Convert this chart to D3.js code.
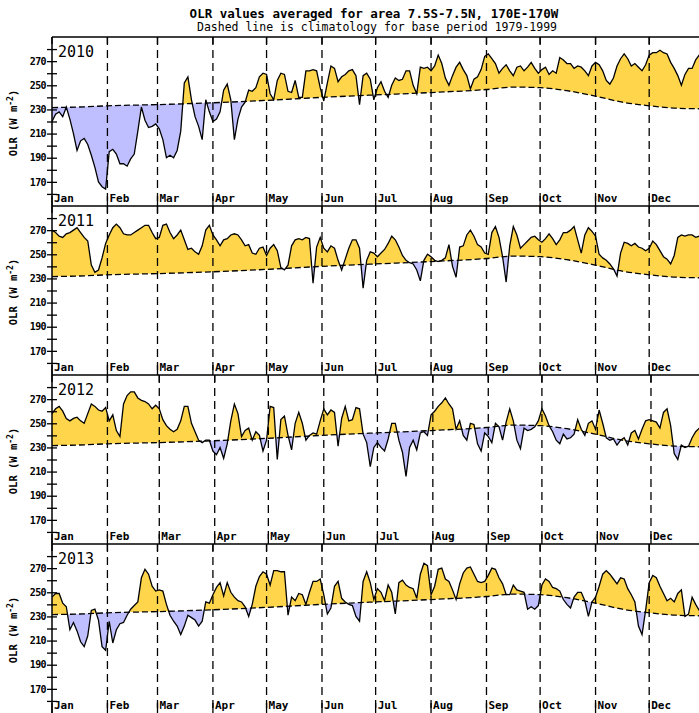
<!DOCTYPE html>
<html>
<head>
<meta charset="utf-8">
<script src="https://cdn.jsdelivr.net/npm/d3@7"></script>
<style>
    body { margin: 0; background: #fff; }
</style>
</head>
<body>
<div id="chart"></div>
<script>
var years = [2010, 2011, 2012, 2013];
var monthNames = ["Jan", "Feb", "Mar", "Apr", "May", "Jun", "Jul", "Aug", "Sep", "Oct", "Nov", "Dec"];
var yTickLabels = [170, 190, 210, 230, 250, 270];

// climatology 1979-1999, day of year -> W m-2
var climDays = [0, 15, 31, 59, 90, 120, 151, 181, 212, 243, 258, 273, 288, 304, 319, 334, 349, 365];
var climValues = [231.5, 232, 233, 234, 235.5, 237.5, 240, 242, 244, 246.5, 248.5, 248, 245.5, 241, 236, 233, 231, 230.5];

// daily OLR read every 2nd day from Jan 1
var sampleStep = 2;
var olr2010 = [220, 226, 228, 224, 232, 222, 210, 196, 204, 206,
    201, 192, 182, 170, 166, 164, 195, 197, 193, 185,
    185, 183, 189, 193, 212, 232, 221, 215, 216, 218,
    214, 205, 190, 192, 190, 196, 212, 252, 257, 238,
    224, 216, 205, 238, 228, 220, 222, 228, 246, 251,
    238, 205, 222, 232, 236, 246, 245, 248, 257, 260,
    259, 243, 238, 254, 260, 259, 245, 244, 254, 240,
    240, 262, 262, 263, 262, 248, 237, 252, 266, 264,
    253, 257, 259, 262, 263, 258, 234, 258, 260, 255,
    238, 248, 253, 245, 240, 250, 256, 254, 255, 262,
    262, 250, 243, 265, 264, 265, 262, 266, 275, 268,
    256, 250, 258, 265, 269, 263, 258, 247, 255, 257,
    263, 274, 276, 272, 268, 260, 264, 267, 262, 258,
    265, 266, 262, 265, 269, 264, 260, 263, 265, 259,
    262, 260, 273, 271, 268, 268, 264, 266, 265, 262,
    258, 266, 269, 267, 262, 254, 251, 256, 266, 272,
    276, 272, 266, 268, 265, 262, 267, 275, 277, 277,
    279, 277, 276, 269, 264, 258, 250, 259, 264, 264,
    271, 275, 274];
var olr2011 = [270, 268, 265, 264, 267, 268, 270, 272, 268, 264,
    261, 241, 235, 237, 247, 259, 266, 272, 275, 272,
    267, 266, 266, 268, 270, 272, 274, 274, 268, 263,
    264, 274, 275, 268, 263, 266, 270, 262, 254, 255,
    252, 250, 257, 270, 274, 266, 262, 257, 262, 263,
    266, 267, 266, 262, 257, 258, 251, 250, 255, 256,
    249, 255, 258, 253, 239, 237, 241, 257, 262, 263,
    262, 264, 263, 226, 256, 264, 255, 252, 257, 255,
    245, 237, 246, 255, 262, 262, 255, 222, 245, 252,
    251, 248, 251, 254, 259, 265, 262, 256, 249, 245,
    243, 242, 237, 228, 245, 250, 248, 245, 244, 245,
    247, 258, 240, 231, 256, 257, 266, 270, 265, 258,
    256, 251, 250, 268, 273, 264, 248, 227, 257, 273,
    266, 255, 258, 261, 264, 265, 262, 260, 263, 267,
    263, 258, 262, 268, 268, 270, 273, 262, 251, 266,
    272, 269, 265, 250, 247, 245, 242, 238, 232, 251,
    260, 259, 257, 259, 256, 255, 253, 255, 261, 258,
    253, 248, 246, 242, 249, 264, 266, 265, 266, 266,
    264, 265, 265];
var olr2012 = [258, 262, 264, 260, 254, 252, 254, 255, 252, 250,
    258, 266, 264, 261, 260, 263, 252, 257, 244, 239,
    266, 273, 276, 276, 271, 269, 268, 266, 262, 265,
    262, 253, 248, 245, 243, 245, 252, 264, 264, 250,
    243, 236, 234, 236, 236, 227, 224, 230, 221, 233,
    252, 266, 258, 239, 244, 246, 236, 243, 240, 227,
    236, 264, 263, 220, 253, 256, 240, 228, 250, 259,
    250, 236, 240, 242, 241, 252, 262, 257, 261, 259,
    231, 254, 264, 252, 253, 263, 262, 241, 234, 214,
    230, 234, 230, 227, 237, 250, 250, 236, 226, 206,
    230, 236, 228, 242, 243, 240, 257, 260, 264, 267,
    271, 266, 262, 245, 252, 240, 236, 250, 249, 233,
    227, 242, 239, 234, 250, 247, 236, 251, 262, 252,
    236, 229, 246, 244, 245, 247, 252, 262, 256, 248,
    243, 236, 233, 241, 237, 238, 241, 253, 245, 240,
    250, 252, 245, 261, 250, 238, 236, 237, 232, 236,
    238, 232, 242, 244, 237, 245, 252, 253, 252, 251,
    246, 259, 262, 248, 225, 220, 232, 230, 231, 238,
    243, 246, 249];
var olr2013 = [246, 249, 249, 241, 238, 219, 225, 218, 209, 205,
    214, 235, 236, 227, 205, 202, 226, 208, 219, 224,
    225, 231, 236, 239, 242, 262, 269, 265, 255, 251,
    252, 251, 240, 231, 226, 222, 215, 222, 231, 229,
    227, 222, 226, 242, 241, 248, 254, 258, 247, 258,
    250, 246, 243, 242, 238, 230, 240, 255, 263, 267,
    265, 256, 268, 268, 267, 267, 231, 246, 243, 249,
    248, 240, 250, 259, 259, 261, 248, 232, 237, 255,
    259, 245, 242, 240, 239, 230, 226, 259, 267, 258,
    244, 253, 250, 243, 256, 250, 232, 258, 260, 256,
    254, 253, 245, 265, 274, 272, 248, 255, 269, 270,
    261, 259, 252, 244, 257, 266, 270, 271, 265, 259,
    258, 259, 264, 270, 269, 262, 257, 248, 248, 256,
    252, 251, 250, 236, 238, 236, 239, 256, 261, 259,
    254, 253, 251, 244, 240, 237, 246, 250, 250, 243,
    230, 242, 246, 255, 265, 268, 265, 261, 257, 262,
    261, 253, 248, 242, 222, 215, 235, 258, 264, 262,
    255, 249, 243, 245, 242, 249, 252, 230, 232, 246,
    240, 235, 238];
var olrByYear = [olr2010, olr2011, olr2012, olr2013];

(function () {
    var width = 699,
        height = 713,
        left = 52,
        pxPerDay = 1.788,
        panelTop = 37,
        panelH = 169,
        yellow = "#ffd54c",
        lavender = "#bfbfff",
        mono = "'DejaVu Sans Mono', monospace";

    var svg = d3.select("#chart").append("svg")
        .attr("width", width)
        .attr("height", height)
        .style("font-family", mono);

    var defs = svg.append("defs");

    var x = d3.scaleLinear().domain([0, 365]).range([left, left + 365 * pxPerDay]);

    svg.append("text")
        .attr("x", 374).attr("y", 18)
        .attr("text-anchor", "middle")
        .style("font-size", "12.5px").style("font-weight", "bold")
        .text("OLR values averaged for area 7.5S-7.5N, 170E-170W");
    svg.append("text")
        .attr("x", 377).attr("y", 31)
        .attr("text-anchor", "middle")
        .style("font-size", "11.5px")
        .text("Dashed line is climatology for base period 1979-1999");

    var clim = climDays.map(function (d, k) { return [d, climValues[k]]; });

    years.forEach(function (yr, i) {
        var top = panelTop + i * panelH,
            bottom = top + panelH,
            y = d3.scaleLinear().domain([150, 290]).range([bottom, top]),
            jan1 = new Date(yr, 0, 1),
            monthDays = d3.timeMonths(jan1, new Date(yr + 1, 0, 1)).map(function (m) {
                return d3.timeDay.count(jan1, m);
            }),
            olr = olrByYear[i].map(function (v, k) { return [k * sampleStep, v]; });

        var g = svg.append("g").attr("class", "panel-" + yr);

        // clip regions above / below climatology
        var climArea = d3.area()
            .curve(d3.curveMonotoneX)
            .x(function (d) { return x(d[0]); })
            .y1(function (d) { return y(d[1]); });
        defs.append("clipPath").attr("id", "above" + yr)
            .append("path").attr("d", climArea.y0(top)(clim));
        defs.append("clipPath").attr("id", "below" + yr)
            .append("path").attr("d", climArea.y0(bottom)(clim));

        var olrX = function (d) { return x(d[0]); },
            olrY = function (d) { return y(d[1]); };

        g.append("path")
            .attr("d", d3.area().x(olrX).y0(bottom).y1(olrY)(olr))
            .attr("clip-path", "url(#above" + yr + ")")
            .style("fill", yellow);
        g.append("path")
            .attr("d", d3.area().x(olrX).y0(top).y1(olrY)(olr))
            .attr("clip-path", "url(#below" + yr + ")")
            .style("fill", lavender);

        // month lines
        g.selectAll(".mline")
            .data(monthDays.slice(1))
            .enter().append("line")
            .attr("x1", function (d) { return x(d); })
            .attr("x2", function (d) { return x(d); })
            .attr("y1", top).attr("y2", bottom)
            .style("stroke", "#000")
            .style("stroke-width", 1.3)
            .style("stroke-dasharray", "8,5");
        g.selectAll(".mtick")
            .data(monthDays)
            .enter().append("path")
            .attr("d", function (d) {
                return "M" + x(d) + "," + top + "V" + (top + 7) + "M" + x(d) + "," + (bottom - 10) + "V" + bottom;
            })
            .style("stroke", "#000")
            .style("stroke-width", 1.3);
        g.selectAll(".mlabel")
            .data(monthDays)
            .enter().append("text")
            .attr("x", function (d) { return x(d) + 2; })
            .attr("y", bottom - 4)
            .style("font-size", "11px")
            .style("font-weight", "bold")
            .text(function (d, k) { return monthNames[k]; });

        // climatology
        g.append("path")
            .attr("d", d3.line().curve(d3.curveMonotoneX)
                .x(function (d) { return x(d[0]); })
                .y(function (d) { return y(d[1]); })(clim))
            .style("fill", "none")
            .style("stroke", "#000")
            .style("stroke-width", 1.3)
            .style("stroke-dasharray", "6,3");

        // daily OLR
        g.append("path")
            .attr("d", d3.line().x(olrX).y(olrY)(olr))
            .style("fill", "none")
            .style("stroke", "#000")
            .style("stroke-width", 1.3);

        // frame and axis
        g.append("line")
            .attr("x1", left).attr("x2", width)
            .attr("y1", top).attr("y2", top)
            .style("stroke", "#000").style("stroke-width", 1.5);
        g.append("line")
            .attr("x1", left).attr("x2", left)
            .attr("y1", top).attr("y2", bottom)
            .style("stroke", "#000").style("stroke-width", 1.5);

        var axis = g.append("g")
            .attr("transform", "translate(" + left + ",0)")
            .call(d3.axisLeft(y)
                .tickValues(d3.range(160, 290, 10))
                .tickSize(5)
                .tickPadding(1)
                .tickFormat(function (d) { return yTickLabels.indexOf(d) >= 0 ? d : ""; }));
        axis.select(".domain").remove();
        axis.selectAll(".tick line").attr("x1", 5).style("stroke-width", 1.3);
        axis.selectAll(".tick text")
            .style("font-family", mono)
            .style("font-size", "10px")
            .style("font-weight", "bold")
            .style("letter-spacing", "-0.6px");

        g.append("text")
            .attr("x", 58).attr("y", top + 20)
            .style("font-size", "15px")
            .text(yr);

        var ylab = g.append("text")
            .attr("transform", "translate(17," + (top + 86) + ")rotate(-90)")
            .attr("text-anchor", "middle")
            .style("font-size", "10.5px")
            .style("font-weight", "bold");
        ylab.append("tspan").text("OLR (W m");
        ylab.append("tspan").attr("dy", -4).style("font-size", "8px").text("-2");
        ylab.append("tspan").attr("dy", 4).text(")");
    });
}());
</script>
</body>
</html>
